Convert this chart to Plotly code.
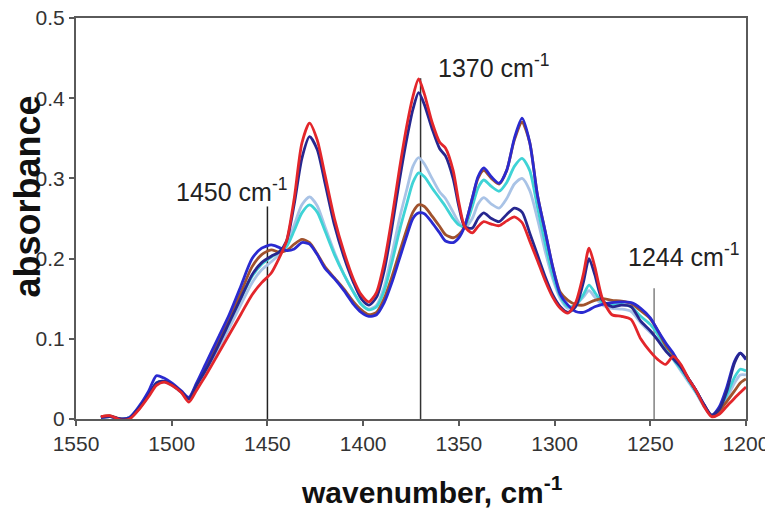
import plotly.graph_objects as go

# wavenumber grid (cm-1), descending
wavenumber = [
    1537, 1532, 1527, 1522, 1517, 1512, 1508, 1504, 1500, 1495,
    1491, 1487, 1482, 1476, 1470, 1464, 1458, 1453, 1448, 1444,
    1440, 1436, 1432, 1428, 1424, 1420, 1415, 1410, 1405, 1401,
    1397, 1393, 1389, 1385, 1381, 1377, 1374, 1371, 1368, 1364,
    1360, 1357, 1353, 1350, 1347, 1343, 1340, 1337, 1333, 1329,
    1325, 1321, 1317, 1313, 1309, 1305, 1301, 1297, 1293, 1289,
    1285, 1282, 1279, 1275, 1270, 1265, 1260, 1255, 1250, 1246,
    1242, 1238, 1234, 1230, 1226, 1222, 1218, 1214, 1210, 1206,
    1203, 1200,
]

abs_red = [
    0.003, 0.004, -0.001, 0.000, 0.012, 0.028, 0.042, 0.046, 0.042, 0.033,
    0.021, 0.036, 0.055, 0.080, 0.105, 0.130, 0.155, 0.170, 0.182, 0.200,
    0.222, 0.275, 0.344, 0.369, 0.348, 0.305, 0.250, 0.208, 0.174, 0.155,
    0.146, 0.158, 0.195, 0.250, 0.312, 0.368, 0.402, 0.424, 0.405, 0.370,
    0.345, 0.338, 0.310, 0.270, 0.240, 0.232, 0.240, 0.246, 0.243, 0.241,
    0.247, 0.252, 0.245, 0.222, 0.198, 0.173, 0.152, 0.138, 0.132, 0.145,
    0.180, 0.213, 0.190, 0.150, 0.130, 0.128, 0.124, 0.100, 0.084, 0.074,
    0.068, 0.078, 0.068, 0.050, 0.035, 0.016, 0.003, 0.006, 0.016, 0.026,
    0.033, 0.040,
]

abs_navy = [
    0.002, 0.003, 0.000, 0.001, 0.014, 0.030, 0.045, 0.047, 0.043, 0.034,
    0.025, 0.042, 0.062, 0.090, 0.120, 0.150, 0.180, 0.195, 0.203, 0.208,
    0.222, 0.268, 0.325, 0.352, 0.336, 0.295, 0.242, 0.202, 0.170, 0.150,
    0.142, 0.152, 0.185, 0.238, 0.298, 0.352, 0.386, 0.407, 0.392, 0.362,
    0.337, 0.328, 0.300, 0.265, 0.240, 0.238, 0.250, 0.257, 0.250, 0.246,
    0.255, 0.263, 0.258, 0.232, 0.205, 0.178, 0.155, 0.140, 0.133, 0.140,
    0.170, 0.200, 0.180, 0.148, 0.140, 0.142, 0.140, 0.122, 0.110, 0.098,
    0.085, 0.075, 0.065, 0.050, 0.035, 0.018, 0.005, 0.012, 0.035, 0.070,
    0.082, 0.075,
]

abs_blue = [
    0.002, 0.003, 0.000, 0.002, 0.016, 0.035, 0.054, 0.051, 0.045, 0.035,
    0.027, 0.045, 0.070, 0.100, 0.130, 0.165, 0.200, 0.213, 0.217, 0.214,
    0.210, 0.212, 0.220, 0.218, 0.205, 0.188, 0.175, 0.160, 0.143, 0.133,
    0.128, 0.130, 0.145, 0.170, 0.200, 0.230, 0.250, 0.257, 0.256, 0.245,
    0.232, 0.222, 0.220, 0.226, 0.240, 0.275, 0.302, 0.313, 0.302, 0.294,
    0.310, 0.350, 0.375, 0.345, 0.280, 0.235, 0.190, 0.155, 0.142, 0.134,
    0.133, 0.136, 0.140, 0.143, 0.145, 0.146, 0.145, 0.138, 0.126, 0.110,
    0.095, 0.082, 0.065, 0.050, 0.035, 0.018, 0.004, 0.015, 0.040, 0.072,
    0.082, 0.074,
]

abs_brown = [
    0.003, 0.004, 0.000, 0.001, 0.013, 0.030, 0.044, 0.047, 0.043, 0.034,
    0.025, 0.043, 0.065, 0.094, 0.124, 0.157, 0.190, 0.205, 0.211, 0.208,
    0.210, 0.218, 0.224, 0.220, 0.206, 0.190, 0.176, 0.162, 0.146, 0.136,
    0.130, 0.133, 0.150, 0.177, 0.208, 0.238, 0.258, 0.267, 0.265, 0.253,
    0.240, 0.230, 0.226, 0.230, 0.240, 0.275, 0.300, 0.310, 0.300, 0.293,
    0.310, 0.348, 0.370, 0.345, 0.280, 0.235, 0.190, 0.158, 0.148, 0.143,
    0.142, 0.145, 0.148, 0.150, 0.148, 0.147, 0.144, 0.135, 0.125, 0.110,
    0.092, 0.080, 0.065, 0.050, 0.035, 0.018, 0.004, 0.010, 0.022, 0.035,
    0.045, 0.050,
]

abs_cyan = [
    0.002, 0.003, 0.000, 0.002, 0.015, 0.031, 0.045, 0.047, 0.043, 0.034,
    0.025, 0.043, 0.065, 0.092, 0.120, 0.150, 0.178, 0.193, 0.202, 0.208,
    0.215, 0.235, 0.257, 0.267, 0.258, 0.235, 0.205, 0.180, 0.158, 0.143,
    0.136, 0.140, 0.160, 0.195, 0.235, 0.270, 0.295, 0.307, 0.302, 0.288,
    0.275, 0.265, 0.250, 0.242, 0.240, 0.265, 0.288, 0.298, 0.290, 0.284,
    0.295, 0.315, 0.325, 0.310, 0.265, 0.220, 0.180, 0.153, 0.140, 0.142,
    0.155, 0.167, 0.158, 0.145, 0.142, 0.143, 0.140, 0.128, 0.118, 0.105,
    0.090, 0.075, 0.062, 0.048, 0.033, 0.017, 0.004, 0.012, 0.030, 0.052,
    0.062, 0.060,
]

abs_lightblue = [
    0.002, 0.003, 0.000, 0.002, 0.014, 0.030, 0.044, 0.046, 0.042, 0.033,
    0.024, 0.040, 0.060, 0.086, 0.113, 0.142, 0.170, 0.186, 0.196, 0.205,
    0.218, 0.242, 0.267, 0.277, 0.266, 0.240, 0.208, 0.180, 0.158, 0.143,
    0.137, 0.142, 0.165, 0.205, 0.250, 0.288, 0.315, 0.326, 0.318, 0.300,
    0.283, 0.275, 0.258, 0.245, 0.238, 0.250, 0.268, 0.276, 0.268, 0.263,
    0.275, 0.293, 0.300, 0.285, 0.250, 0.210, 0.175, 0.150, 0.138, 0.142,
    0.152, 0.160, 0.152, 0.142, 0.138, 0.137, 0.134, 0.120, 0.108, 0.100,
    0.088, 0.074, 0.060, 0.046, 0.032, 0.016, 0.004, 0.010, 0.026, 0.045,
    0.055, 0.055,
]

# marked bands: line position, line top, label text, label position
band_pos = [1450, 1370, 1248]
band_top = [0.265, 0.425, 0.163]
band_color = ["#222222", "#333333", "#808080"]
band_label = ["1450 cm<sup>-1</sup>", "1370 cm<sup>-1</sup>", "1244 cm<sup>-1</sup>"]
label_x = [1469, 1332, 1232.5]
label_y = [0.285, 0.44, 0.204]

FONT = "Liberation Sans, Arial, sans-serif"

fig = go.Figure()

# band marker lines underneath the spectra
for pos, top, col in zip(band_pos, band_top, band_color):
    fig.add_trace(go.Scatter(
        x=[pos, pos], y=[0, top], mode="lines",
        line=dict(color=col, width=1.5), hoverinfo="skip",
    ))

series = [
    (abs_lightblue, "#a9c3e6"),
    (abs_cyan, "#3fd3d6"),
    (abs_brown, "#a0522d"),
    (abs_blue, "#2a2ad0"),
    (abs_navy, "#27278f"),
    (abs_red, "#e3262b"),
]
for ys, col in series:
    fig.add_trace(go.Scatter(
        x=wavenumber, y=ys, mode="lines",
        line=dict(color=col, width=2.8, shape="spline", smoothing=0.7),
    ))

for txt, lx, ly in zip(band_label, label_x, label_y):
    fig.add_annotation(
        x=lx, y=ly, xref="x", yref="y", text=txt, showarrow=False,
        xanchor="center", yanchor="middle",
        font=dict(family=FONT, size=25, color="#222222"),
    )

# axis titles
fig.add_annotation(
    x=0.532, y=-0.176, xref="paper", yref="paper",
    text="<b>wavenumber, cm<sup>-1</sup></b>", showarrow=False,
    xanchor="center", yanchor="middle",
    font=dict(family=FONT, size=30, color="#111111"),
)
fig.add_annotation(
    x=-0.072, y=0.554, xref="paper", yref="paper",
    text="<b>absorbance</b>", textangle=-90, showarrow=False,
    xanchor="center", yanchor="middle",
    font=dict(family=FONT, size=36, color="#111111"),
)

axis_style = dict(
    showgrid=False, zeroline=False, showline=True, mirror=True,
    linecolor="#5a5a5a", linewidth=2, ticks="outside", ticklen=5,
    tickcolor="#5a5a5a", tickwidth=1.5, automargin=False,
    ticklabeloverflow="allow",
    tickfont=dict(family=FONT, size=21, color="#333333"),
)
fig.update_xaxes(range=[1550, 1200], dtick=50, tick0=1200, **axis_style)
fig.update_yaxes(range=[0, 0.5], dtick=0.1, **axis_style)

# page body adds an 8px offset, margins compensate for it
fig.update_layout(
    width=773, height=509,
    margin=dict(l=68, r=35, t=10, b=98),
    plot_bgcolor="white", paper_bgcolor="white",
    showlegend=False,
)

fig.write_html("out.html")
